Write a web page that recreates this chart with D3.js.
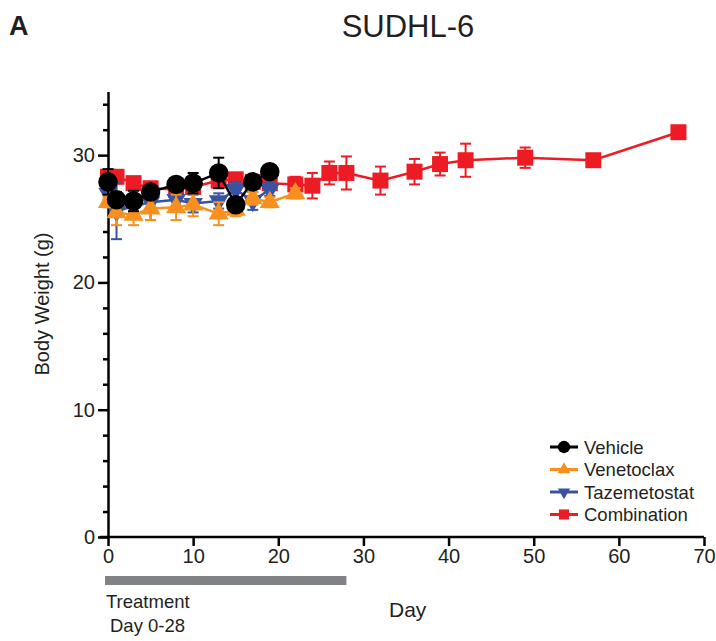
<!DOCTYPE html>
<html>
<head>
<meta charset="utf-8">
<script src="https://cdn.jsdelivr.net/npm/d3@7"></script>
<style>
  body { margin: 0; background: #fff; }
  text { font-family: "Liberation Sans", Arial, Helvetica, sans-serif; }
</style>
</head>
<body>
<svg width="716" height="641"></svg>
<script>
// values (mean, error)
var vehicleDays = [0, 1, 3, 5, 8, 10, 13, 15, 17, 19];
var vehicleMean = [27.9, 26.5, 26.4, 27.1, 27.7, 27.8, 28.6, 26.1, 27.9, 28.7];
var vehicleErr  = [1.0, 0.6, 0.8, 0.5, 0.4, 0.8, 1.2, 0.4, 0.5, 0.4];

var venDays = [0, 1, 3, 5, 8, 10, 13, 15, 17, 19, 22];
var venMean = [26.3, 25.5, 25.3, 25.8, 25.9, 26.1, 25.4, 25.7, 26.6, 26.3, 27.0];
var venErr  = [0.4, 1.0, 0.8, 0.9, 1.0, 0.9, 0.9, 0.5, 0.5, 0.4, 0.4];

var tazDays = [0, 1, 3, 5, 8, 10, 13, 15, 17, 19];
var tazMean = [27.0, 25.6, 26.0, 26.3, 26.5, 26.2, 26.4, 27.3, 26.4, 27.3];
var tazErr  = [0.5, 2.2, 0.5, 1.4, 0.6, 0.7, 0.6, 0.6, 0.7, 0.5];

var comDays = [0, 1, 3, 5, 8, 10, 13, 15, 17, 19, 22, 24, 26, 28, 32, 36, 39, 42, 49, 57, 67];
var comMean = [28.3, 28.3, 27.8, 27.4, 27.3, 27.5, 28.0, 28.1, 27.9, 27.8, 27.7, 27.6, 28.6, 28.6, 28.0, 28.7, 29.3, 29.6, 29.8, 29.6, 31.8];
var comErr  = [0.5, 0.5, 0.4, 0.4, 0.4, 0.4, 0.5, 0.5, 0.5, 0.5, 0.6, 1.0, 0.9, 1.3, 1.1, 1.0, 0.9, 1.3, 0.8, 0.3, 0.2];

var xTicks = [0, 10, 20, 30, 40, 50, 60, 70];
var yTicks = [0, 10, 20, 30];
var yMinor = [2, 4, 6, 8, 12, 14, 16, 18, 22, 24, 26, 28, 32, 34];
var treatment = [0, 28];

var series = [
  {name: "Combination", days: comDays, mean: comMean, err: comErr, color: "#ed1c24", sym: d3.symbolSquare, size: 256, rot: 0},
  {name: "Tazemetostat", days: tazDays, mean: tazMean, err: tazErr, color: "#3953a4", sym: d3.symbolTriangle, size: 165, rot: 180},
  {name: "Venetoclax", days: venDays, mean: venMean, err: venErr, color: "#f7901e", sym: d3.symbolTriangle, size: 175, rot: 0},
  {name: "Vehicle", days: vehicleDays, mean: vehicleMean, err: vehicleErr, color: "#000000", sym: d3.symbolCircle, size: 300, rot: 0}
];

var svg = d3.select("svg");

var x = d3.scaleLinear().domain([0, 70]).range([108, 704]);
var y = d3.scaleLinear().domain([0, 35]).range([537, 91.5]);

// axes
var xAxis = svg.append("g")
  .attr("transform", "translate(0," + y(0) + ")")
  .call(d3.axisBottom(x).tickValues(xTicks).tickSize(9).tickSizeOuter(0).tickPadding(3));

var yAxis = svg.append("g")
  .attr("transform", "translate(" + x(0) + ",0)")
  .call(d3.axisLeft(y).tickValues(yTicks).tickSize(10).tickSizeOuter(0).tickPadding(3));

svg.append("g")
  .attr("transform", "translate(" + x(0) + ",0)")
  .call(d3.axisLeft(y).tickValues(yMinor).tickSize(5).tickSizeOuter(0).tickFormat(""))
  .select(".domain").remove();

svg.selectAll(".domain").attr("stroke", "#000").attr("stroke-width", 2.5);
svg.selectAll(".tick line").attr("stroke", "#000").attr("stroke-width", 2.5);
svg.selectAll(".tick text").attr("font-size", 20).attr("fill", "#231f20")
  .style("font-family", "'Liberation Sans', Arial, sans-serif");
// x-axis line starts a little left of the y-axis like the original
xAxis.select(".domain").attr("d", "M" + (x(0) - 8) + ",0H" + x(70));

// series
series.forEach(function(s) {
  var pts = s.days.map(function(d, i) { return {d: d, m: s.mean[i], e: s.err[i]}; });
  var g = svg.append("g");

  var eb = g.selectAll(".eb").data(pts).enter().append("g");
  eb.append("line")
    .attr("x1", function(p) { return x(p.d); })
    .attr("x2", function(p) { return x(p.d); })
    .attr("y1", function(p) { return y(p.m - p.e); })
    .attr("y2", function(p) { return y(p.m + p.e); })
    .attr("stroke", s.color).attr("stroke-width", 2);
  [-1, 1].forEach(function(sg) {
    eb.append("line")
      .attr("x1", function(p) { return x(p.d) - 5.5; })
      .attr("x2", function(p) { return x(p.d) + 5.5; })
      .attr("y1", function(p) { return y(p.m + sg * p.e); })
      .attr("y2", function(p) { return y(p.m + sg * p.e); })
      .attr("stroke", s.color).attr("stroke-width", 2);
  });

  g.append("path")
    .datum(pts)
    .attr("fill", "none")
    .attr("stroke", s.color)
    .attr("stroke-width", 2.5)
    .attr("d", d3.line().x(function(p) { return x(p.d); }).y(function(p) { return y(p.m); }));

  g.selectAll(".pt").data(pts).enter().append("path")
    .attr("transform", function(p) { return "translate(" + x(p.d) + "," + y(p.m) + ") rotate(" + s.rot + ")"; })
    .attr("d", d3.symbol().type(s.sym).size(s.size))
    .attr("fill", s.color);
});

// treatment bar
svg.append("rect")
  .attr("x", x(treatment[0]) - 3)
  .attr("y", 576)
  .attr("width", x(treatment[1]) - x(treatment[0]) + 3)
  .attr("height", 9)
  .attr("fill", "#808285");

svg.append("text").attr("x", 106).attr("y", 608).attr("font-size", 18.5).attr("fill", "#231f20").text("Treatment");
svg.append("text").attr("x", 110).attr("y", 632).attr("font-size", 18.5).attr("fill", "#231f20").text("Day 0-28");
svg.append("text").attr("x", 389).attr("y", 617).attr("font-size", 21).attr("fill", "#231f20").text("Day");

// y label
svg.append("text")
  .attr("transform", "translate(49,304) rotate(-90)")
  .attr("text-anchor", "middle")
  .attr("font-size", 20)
  .attr("fill", "#231f20")
  .text("Body Weight (g)");

// titles
svg.append("text").attr("x", 9).attr("y", 35).attr("font-size", 27).attr("font-weight", "bold").attr("fill", "#231f20").text("A");
svg.append("text").attr("x", 408).attr("y", 37).attr("text-anchor", "middle").attr("font-size", 31).attr("fill", "#231f20").text("SUDHL-6");

// legend
var legend = svg.append("g");
var legendItems = series.slice().reverse();
legendItems.forEach(function(s, i) {
  var ly = 447 + i * 22.5;
  legend.append("line").attr("x1", 550).attr("x2", 578).attr("y1", ly).attr("y2", ly)
    .attr("stroke", s.color).attr("stroke-width", 3);
  legend.append("path")
    .attr("transform", "translate(564," + ly + ") rotate(" + s.rot + ")")
    .attr("d", d3.symbol().type(s.sym).size(s.size * 0.4))
    .attr("fill", s.color);
  legend.append("text").attr("x", 584).attr("y", ly + 6.5).attr("font-size", 18.5).attr("fill", "#231f20").text(s.name);
});
</script>
</body>
</html>
